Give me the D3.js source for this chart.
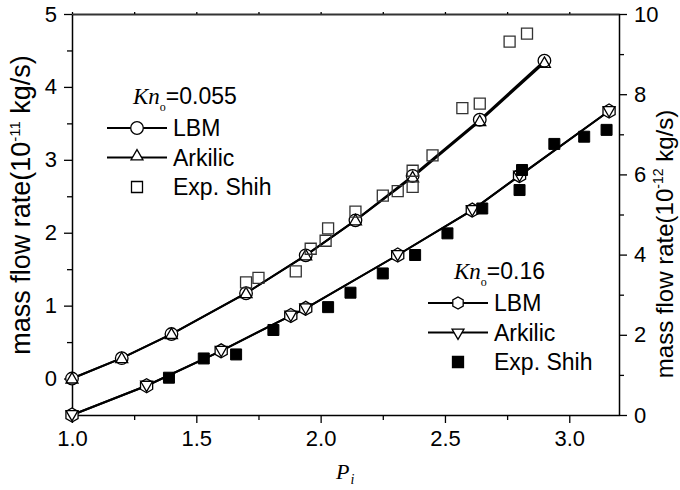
<!DOCTYPE html>
<html><head><meta charset="utf-8">
<script src="https://cdn.jsdelivr.net/npm/d3@7"></script>
<style>
body{margin:0;background:#fff;}
svg{display:block;}
text{font-family:"Liberation Sans",Arial,sans-serif;fill:#000;}
</style></head>
<body>
<svg id="c" width="680" height="490"></svg>
<script>
// ---- data ----
const xKn055 = [1.0, 1.2, 1.4, 1.7, 1.94, 2.14, 2.37, 2.64, 2.9];
const lbm055 = [0.00, 0.28, 0.61, 1.17, 1.69, 2.17, 2.78, 3.55, 4.36];
const ark055 = [0.00, 0.28, 0.61, 1.17, 1.69, 2.17, 2.76, 3.53, 4.33];
const expX055 = [1.70, 1.75, 1.90, 1.96, 2.02, 2.03, 2.14, 2.25, 2.31, 2.37, 2.37, 2.45, 2.57, 2.64, 2.76, 2.83];
const expY055 = [1.32, 1.38, 1.47, 1.78, 1.89, 2.06, 2.29, 2.51, 2.57, 2.85, 2.63, 3.06, 3.71, 3.77, 4.62, 4.73];

const xKn016 = [1.0, 1.3, 1.6, 1.88, 1.94, 2.31, 2.61, 2.80, 3.16];
const lbm016 = [0.00, 0.73, 1.60, 2.48, 2.66, 3.99, 5.11, 5.97, 7.58];
const ark016 = [0.00, 0.73, 1.60, 2.48, 2.66, 3.99, 5.11, 5.97, 7.58];
const expX016 = [1.39, 1.53, 1.66, 1.81, 2.03, 2.12, 2.25, 2.38, 2.51, 2.65, 2.80, 2.81, 2.94, 3.06, 3.15];
const expY016 = [0.93, 1.41, 1.51, 2.12, 2.69, 3.05, 3.53, 3.99, 4.53, 5.15, 5.61, 6.11, 6.76, 6.94, 7.11];

const xTicks = [1.0, 1.5, 2.0, 2.5, 3.0];
const yLeftTicks = [0, 1, 2, 3, 4, 5];
const yRightTicks = [0, 2, 4, 6, 8, 10];

// ---- layout ----
const L = 72, R = 619, T = 14, B = 415;
const svg = d3.select("#c");
const x = d3.scaleLinear().domain([1.0, 3.2]).range([L, R]);
const yL = d3.scaleLinear().domain([-0.5, 5]).range([B, T]);
const yR = d3.scaleLinear().domain([0, 10]).range([B, T]);

function styleAxis(g){
  g.select(".domain").attr("stroke","#000").attr("stroke-width",1.5);
  g.selectAll(".tick line").attr("stroke","#000").attr("stroke-width",1.3);
  g.selectAll(".tick text").style("font-size","22px").style("font-family","'Liberation Sans',Arial,sans-serif");
}
const xMinor = d3.range(1.25, 3.2, 0.5);
const yLMinor = [-0.5, 0.5, 1.5, 2.5, 3.5, 4.5];
const yRMinor = [1, 3, 5, 7, 9];

const gxm = svg.append("g").attr("transform",`translate(0,${B})`)
  .call(d3.axisBottom(x).tickValues(xMinor).tickSize(5).tickFormat(""));
gxm.select(".domain").remove(); gxm.selectAll(".tick line").attr("stroke","#000").attr("stroke-width",1.3);
const gx = svg.append("g").attr("transform",`translate(0,${B})`)
  .call(d3.axisBottom(x).tickValues(xTicks).tickSize(8).tickSizeOuter(0).tickPadding(7).tickFormat(d3.format(".1f")));
styleAxis(gx);

const gtm = svg.append("g").attr("transform",`translate(0,${T})`)
  .call(d3.axisTop(x).tickValues(xMinor.concat(xTicks)).tickSize(2).tickSizeOuter(0).tickFormat(""));
styleAxis(gtm);
gtm.select(".domain").attr("stroke","#333").attr("stroke-width",2);

const gym = svg.append("g").attr("transform",`translate(${L},0)`)
  .call(d3.axisLeft(yL).tickValues(yLMinor).tickSize(5).tickFormat(""));
gym.select(".domain").remove(); gym.selectAll(".tick line").attr("stroke","#000").attr("stroke-width",1.3);
const gy = svg.append("g").attr("transform",`translate(${L},0)`)
  .call(d3.axisLeft(yL).tickValues(yLeftTicks).tickSize(8).tickSizeOuter(0).tickPadding(7).tickFormat(d3.format("d")));
styleAxis(gy);

const grm = svg.append("g").attr("transform",`translate(${R},0)`)
  .call(d3.axisRight(yR).tickValues(yRMinor).tickSize(5).tickFormat(""));
grm.select(".domain").remove(); grm.selectAll(".tick line").attr("stroke","#000").attr("stroke-width",1.3);
const gr = svg.append("g").attr("transform",`translate(${R},0)`)
  .call(d3.axisRight(yR).tickValues(yRightTicks).tickSize(8).tickSizeOuter(0).tickPadding(7).tickFormat(d3.format("d")));
styleAxis(gr);

// axis titles
const tl = svg.append("text").attr("transform",`translate(30,205) rotate(-90)`)
  .attr("text-anchor","middle").style("font-size","27px");
tl.append("tspan").text("mass flow rate(10");
tl.append("tspan").attr("dy",-10).style("font-size","15px").text("-11");
tl.append("tspan").attr("dy",10).text(" kg/s)");

const tr = svg.append("text").attr("transform",`translate(673,244) rotate(-90)`)
  .attr("text-anchor","middle").style("font-size","24px");
tr.append("tspan").text("mass flow rate(10");
tr.append("tspan").attr("dy",-10).style("font-size","14px").text("-12");
tr.append("tspan").attr("dy",10).text(" kg/s)");

const tx = svg.append("text").attr("x",336).attr("y",479)
  .style("font-family","'Liberation Serif','Times New Roman',serif").style("font-style","italic").style("font-size","22px");
tx.append("tspan").text("P");
tx.append("tspan").attr("dy",5).attr("dx",1).style("font-size","14px").text("i");

// symbols
const circleSym = d3.symbol().type(d3.symbolCircle).size(Math.PI*6.3*6.3);
const triUp = d3.symbol().type(d3.symbolTriangle).size(62);
const sq = d3.symbol().type(d3.symbolSquare).size(11*11);
function hexPath(r){
  const pts=[]; for(let i=0;i<6;i++){const a=Math.PI/2+i*Math.PI/3; pts.push([r*Math.cos(a), r*Math.sin(a)]);}
  return "M"+pts.map(p=>p.join(",")).join("L")+"Z";
}
const triDown = d3.symbol().type(d3.symbolTriangle).size(62);

const line = d3.line();
const plot = svg.append("g");

function drawLine(xs, ys, yScale){
  plot.append("path").attr("d", line(xs.map((v,i)=>[x(v), yScale(ys[i])])))
    .attr("fill","none").attr("stroke","#000").attr("stroke-width",2);
}
drawLine(xKn055, lbm055, yL);
drawLine(xKn055, ark055, yL);
drawLine(xKn016, lbm016, yR);
drawLine(xKn016, ark016, yR);

plot.selectAll(".c055").data(xKn055).join("path")
  .attr("transform",(d,i)=>`translate(${x(d)},${yL(lbm055[i])})`)
  .attr("d",circleSym()).attr("fill","#fff").attr("stroke","#000").attr("stroke-width",1.3);
plot.selectAll(".t055").data(xKn055).join("path")
  .attr("transform",(d,i)=>`translate(${x(d)},${yL(ark055[i])+1})`)
  .attr("d",triUp()).attr("fill","none").attr("stroke","#000").attr("stroke-width",1.3);
plot.selectAll(".e055").data(expX055).join("path")
  .attr("transform",(d,i)=>`translate(${x(d)},${yL(expY055[i])})`)
  .attr("d",sq()).attr("fill","none").attr("stroke","#333").attr("stroke-width",1.3);

plot.selectAll(".h016").data(xKn016).join("path")
  .attr("transform",(d,i)=>`translate(${x(d)},${yR(lbm016[i])})`)
  .attr("d",hexPath(7)).attr("fill","#fff").attr("stroke","#000").attr("stroke-width",1.3);
plot.selectAll(".v016").data(xKn016).join("path")
  .attr("transform",(d,i)=>`translate(${x(d)},${yR(ark016[i])-1}) rotate(180)`)
  .attr("d",triDown()).attr("fill","none").attr("stroke","#000").attr("stroke-width",1.3);
plot.selectAll(".e016").data(expX016).join("path")
  .attr("transform",(d,i)=>`translate(${x(d)},${yR(expY016[i])})`)
  .attr("d",sq()).attr("fill","#000").attr("stroke","#000").attr("stroke-width",1);

function legend(x0, y0, knText, items){
  const g = svg.append("g");
  const kt = g.append("text").attr("x",x0+26).attr("y",y0);
  kt.append("tspan").style("font-family","'Liberation Serif','Times New Roman',serif").style("font-style","italic").style("font-size","23px").text("Kn");
  kt.append("tspan").attr("dy",7).style("font-family","'Liberation Serif','Times New Roman',serif").style("font-size","12px").text("o");
  kt.append("tspan").attr("dy",-7).style("font-size","23px").text(knText);
  items.forEach((it,i)=>{
    const yy = y0 + 24 + i*29.5;
    if(it.line) g.append("line").attr("x1",x0).attr("x2",x0+60).attr("y1",yy).attr("y2",yy).attr("stroke","#000").attr("stroke-width",2);
    g.append("path").attr("transform",`translate(${x0+30},${yy+(it.dy||0)})${it.rot?" rotate(180)":""}`).attr("d",it.d)
      .attr("fill",it.fill).attr("stroke","#000").attr("stroke-width",1.3);
    g.append("text").attr("x",x0+66).attr("y",yy+8).style("font-size","23px").text(it.label);
  });
}
legend(107, 104, "=0.055", [
  {label:"LBM", line:true, d:circleSym(), fill:"#fff"},
  {label:"Arkilic", line:true, d:triUp(), fill:"#fff", dy:-1},
  {label:"Exp. Shih", line:false, d:sq(), fill:"#fff"}
]);
legend(428, 279, "=0.16", [
  {label:"LBM", line:true, d:hexPath(6), fill:"#fff"},
  {label:"Arkilic", line:true, d:triDown(), fill:"#fff", rot:true},
  {label:"Exp. Shih", line:false, d:sq(), fill:"#000"}
]);
</script>
</body></html>
